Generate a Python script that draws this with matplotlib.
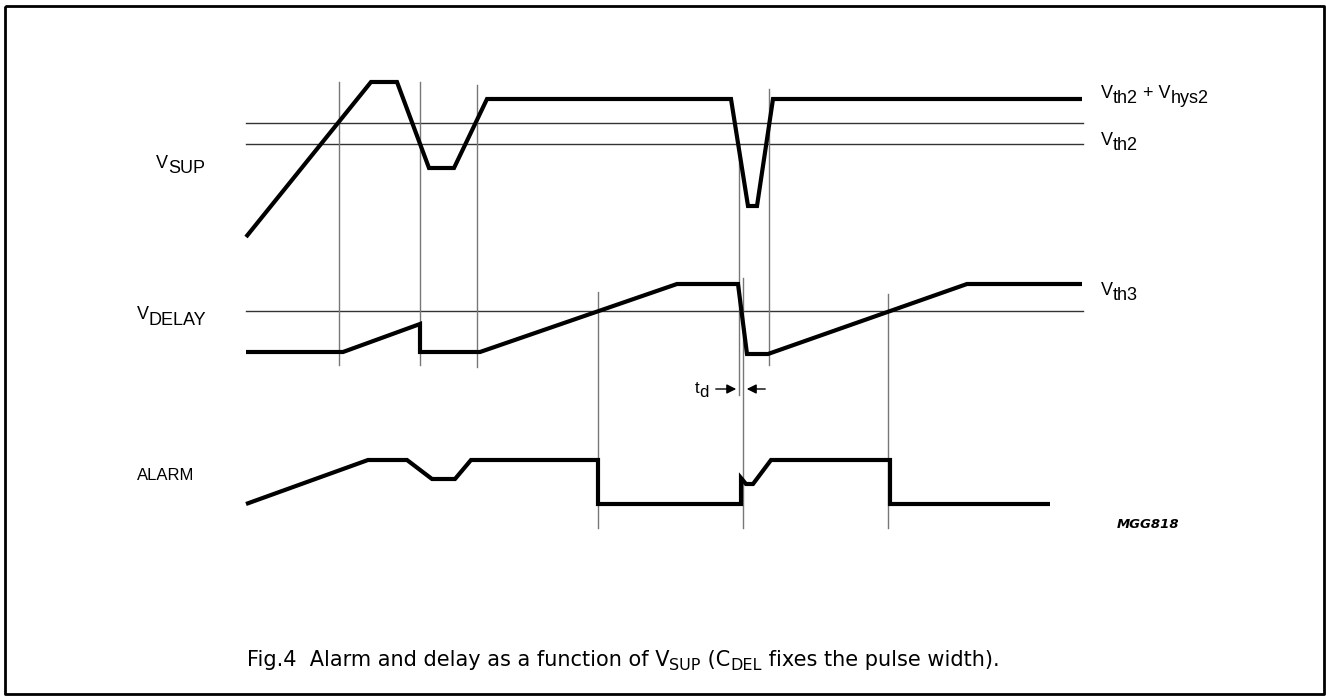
import matplotlib
matplotlib.use("Agg")
import matplotlib.pyplot as plt

plt.rcParams['font.family'] = ['Liberation Sans', 'DejaVu Sans']

# ---- traces (time, level) in diagram units ----
vsup_t = [246, 371, 397, 429, 454, 487, 731, 748, 757, 773, 1082]
vsup_v = [237, 82, 82, 168, 168, 99, 99, 206, 206, 99, 99]

vdelay_t = [246, 343, 420, 420, 480, 677, 738, 747, 768, 967, 1082]
vdelay_v = [352, 352, 324, 352, 352, 284, 284, 354, 354, 284, 284]

alarm_t = [246, 368, 407, 432, 455, 471, 598, 598, 741, 741, 746, 753, 771, 890, 890, 1050]
alarm_v = [504, 460, 460, 479, 479, 460, 460, 504, 504, 478, 484, 484, 460, 460, 504, 504]

# threshold levels
thr_levels = [123, 144, 311]
thr_labels = [
    [("V", False), ("th2", True), (" + V", False), ("hys2", True)],
    [("V", False), ("th2", True)],
    [("V", False), ("th3", True)],
]
thr_label_base = [98, 145, 295]

# vertical event markers: (time, top, bottom)
ev_t = [339, 420, 477, 739, 769, 598, 888, 743]
ev_top = [82, 82, 85, 145, 89, 292, 294, 278]
ev_bot = [365, 365, 367, 395, 365, 528, 528, 528]

caption_parts = [("Fig.4  Alarm and delay as a function of V", False), ("SUP", True),
                 (" (C", False), ("DEL", True), (" fixes the pulse width).", False)]

fig = plt.figure(figsize=(13.26, 6.96), dpi=100)
ax = fig.add_axes([0, 0, 1, 1])
ax.set_xlim(0, 1326)
ax.set_ylim(696, 0)
ax.axis('off')
renderer = fig.canvas.get_renderer()


def rich(x, base, parts, size, sub_size=None, sub_drop=5, **kw):
    """Draw text pieces in sequence; subscript pieces are lowered."""
    if sub_size is None:
        sub_size = size
    cx = x
    for s, sub in parts:
        t = ax.text(cx, base + (sub_drop if sub else 0), s,
                    fontsize=(sub_size if sub else size),
                    va='baseline', ha='left', **kw)
        bb = t.get_window_extent(renderer=renderer)
        cx += bb.width * 1326 / fig.bbox.width
    return cx


# frame
ax.plot([5, 1324, 1324, 5, 5], [6, 6, 694, 694, 6], color='black', lw=2.0,
        solid_capstyle='butt')

# thresholds
for lvl in thr_levels:
    ax.plot([246, 1083], [lvl, lvl], color='#333333', lw=1.0)
for parts, b in zip(thr_labels, thr_label_base):
    rich(1101, b, parts, 13, sub_drop=5)

# event verticals
for t, a, b in zip(ev_t, ev_top, ev_bot):
    ax.plot([t, t], [a, b], color='#777777', lw=1.0)

# traces
for xs, ys in [(vsup_t, vsup_v), (vdelay_t, vdelay_v), (alarm_t, alarm_v)]:
    ax.plot(xs, ys, color='black', lw=3.0, solid_joinstyle='miter',
            solid_capstyle='butt')

# t_d arrows
ax.annotate('', xy=(739, 389), xytext=(713, 389),
            arrowprops=dict(arrowstyle='-|>', color='black', lw=1.0, mutation_scale=14))
ax.annotate('', xy=(744, 389), xytext=(768, 389),
            arrowprops=dict(arrowstyle='-|>', color='black', lw=1.0, mutation_scale=14))
rich(695, 393, [("t", False), ("d", True)], 12, sub_drop=4)

# signal labels
rich(156, 168, [("V", False), ("SUP", True)], 13, sub_drop=5)
rich(137, 319, [("V", False), ("DELAY", True)], 13, sub_drop=6)
ax.text(137, 480, "ALARM", fontsize=12, va='baseline', ha='left')

ax.text(1117, 528, "MGG818", fontsize=9.5, style='italic', weight='bold',
        family='DejaVu Sans', va='baseline', ha='left')

rich(247, 666, caption_parts, 15, sub_size=11.5, sub_drop=4, family='DejaVu Sans')

fig.savefig("out.png", dpi=100)
